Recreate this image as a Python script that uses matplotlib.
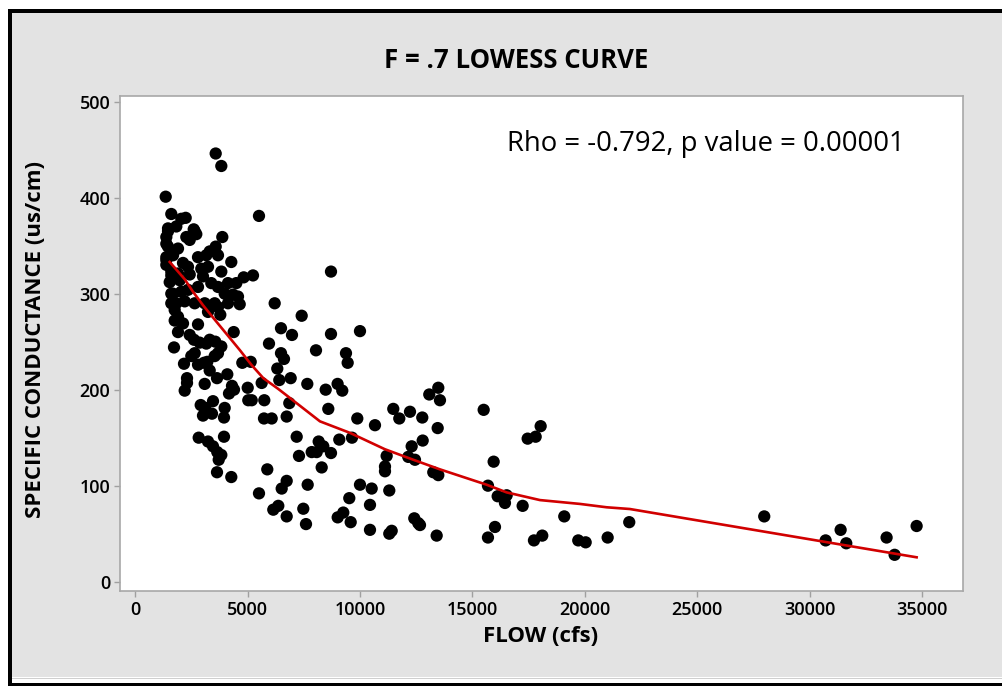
import matplotlib
matplotlib.use('Agg')
from matplotlib import pyplot as plt
from matplotlib.patches import Rectangle

# scatter data: flow (cfs) vs specific conductance (us/cm)
flow = [
    3576, 3826, 1352, 5502, 1601, 2046, 2241, 1455, 1380, 1824, 2598, 2713, 2269, 2420, 3870,
    1455, 1899, 1677, 2789, 3158, 3309, 3576, 1380, 1380, 2122, 2344, 2936, 3234, 3678, 4270,
    3826, 1601, 1899, 2420, 1530, 1975, 4822, 5235, 3011, 3380, 3678, 4123, 4492, 2789, 1601,
    2046, 2344, 3976, 4346, 4568, 6200, 1601, 1752, 2642, 3087, 3678, 4123, 3234, 3781, 1899,
    1455, 2642, 1380, 1380, 1601, 1677, 1824,
    2197, 3531, 4644, 1752, 2122, 2789, 1899, 4377, 2420, 2611, 2864, 3158, 3309, 3558, 3826,
    1721, 3678, 3531, 2642, 2491, 3203, 3056, 2789, 2166, 3309, 3634, 4092, 2300, 2300, 3087,
    2197, 4301, 4390, 4168, 2909, 3114, 3456, 3011, 3411, 3976, 3945, 2820, 3234, 3456, 3647,
    3826, 3710, 3945, 3634, 4270,
    8705, 7401, 6481, 6970, 8705, 9995, 5947, 8038, 6481, 6614, 9372, 9447, 4760, 5133, 6316,
    6405, 6912, 5622, 7651, 8999, 9207, 8469, 5000, 5026, 5178, 5738, 6850, 8585, 13478, 13077,
    13553, 11476, 12219, 11743, 12766, 9875, 10662, 5725, 6067, 6734, 13451, 7179, 9074, 9639,
    8157, 8363, 12784, 12294,
    8069, 7847, 8705, 7281, 11181, 12143, 12441, 5871, 8291, 11107, 11107, 13255, 13478, 6734,
    6512, 7668, 5502, 9995, 10515, 11298, 9519, 10440, 6361, 6138, 7473, 6734, 7593, 9252, 9003,
    9581, 10440, 11405, 11298, 12410, 12664, 12588, 13406,
    15497, 18032, 17454, 17810, 15941, 15688, 16120, 16520, 16444, 17231, 19082, 21973, 16000,
    15688, 18103, 17734, 19705, 20034, 21012,
    27978, 30709, 31376, 31627, 33421, 33778, 34757,
]
cond = [
    446, 433, 401, 381, 383, 378, 379, 368, 359, 370, 367, 362, 359, 356, 359,
    349, 347, 340, 338, 340, 344, 349, 338, 330, 332, 328, 326, 328, 340, 333,
    323, 323, 321, 320, 312, 314, 317, 319, 318, 311, 307, 311, 311, 307, 300,
    302, 304, 300, 299, 297, 290, 290, 283, 290, 290, 286, 290, 281, 278, 276,
    365, 365, 352, 335, 319, 300, 290,
    292, 290, 289, 272, 269, 268, 260, 260, 257, 252, 249, 248, 252, 250, 245,
    244, 238, 235, 238, 235, 229, 228, 226, 227, 220, 212, 216, 212, 207, 206,
    199, 204, 200, 196, 184, 181, 188, 173, 175, 181, 171, 150, 146, 141, 135,
    132, 127, 151, 114, 109,
    323, 277, 264, 257, 258, 261, 248, 241, 238, 232, 238, 228, 228, 229, 222,
    210, 212, 207, 206, 206, 199, 200, 202, 189, 189, 189, 186, 180, 202, 195,
    189, 180, 177, 170, 171, 170, 163, 170, 170, 172, 160, 151, 148, 150,
    146, 141, 147, 141,
    135, 135, 134, 131, 131, 130, 127, 117, 119, 120, 115, 114, 111, 105,
    97, 101, 92, 101, 97, 95, 87, 80, 79, 75, 76, 68, 60, 72, 67,
    62, 54, 53, 50, 66, 59, 61, 48,
    179, 162, 149, 151, 125, 100, 89, 90, 82, 79, 68, 62, 57,
    46, 48, 43, 43, 41, 46,
    68, 43, 54, 40, 46, 28, 58,
]

# lowess curve (f = 0.7)
lowess_x = [1530, 2197, 2566, 3011, 3531, 4270, 4657, 5160, 5693, 6347, 6734, 8215, 9550,
            11100, 12366, 13553, 15630, 16519, 18002, 19781, 20968, 22000, 34757]
lowess_y = [333, 315, 302, 288, 273, 252, 241, 226, 212, 201, 194, 167, 155,
            138, 127, 117, 101, 93, 85, 81, 77.5, 75.7, 25.4]

xticks = [0, 5000, 10000, 15000, 20000, 25000, 30000, 35000]
yticks = [0, 100, 200, 300, 400, 500]

plt.rcParams['font.family'] = ['Open Sans', 'DejaVu Sans']

fig = plt.figure(figsize=(10.02, 6.86), dpi=100)
fig.patch.set_facecolor('white')
W, H = 1002.0, 686.0

# gray panel and black frame
fig.patches.append(Rectangle((12 / W, 1 - 677 / H), 1, (677 - 13) / H, transform=fig.transFigure,
                             facecolor='#e3e3e3', edgecolor='none', zorder=-3))
fig.patches.append(Rectangle((12 / W, 1 - 679 / H), 1, 1.5 / H, transform=fig.transFigure,
                             facecolor='#cfcfcf', edgecolor='none', zorder=-2))
fig.patches.append(Rectangle((8 / W, 1 - 13 / H), 1, 4 / H, transform=fig.transFigure,
                             facecolor='black', edgecolor='none', zorder=-1))
fig.patches.append(Rectangle((8 / W, 0), 4 / W, 1 - 9 / H, transform=fig.transFigure,
                             facecolor='black', edgecolor='none', zorder=-1))
fig.patches.append(Rectangle((8 / W, 0), 1, 3 / H, transform=fig.transFigure,
                             facecolor='black', edgecolor='none', zorder=-1))

ax = fig.add_axes([120 / W, 1 - 591 / H, (963 - 120) / W, (591 - 96) / H])
ax.set_facecolor('white')
ax.scatter(flow, cond, s=78, c='black', edgecolors='none', zorder=3)
ax.plot(lowess_x, lowess_y, color='#d10000', linewidth=1.9, zorder=4)

ax.set_xlim(-681, 36820)
ax.set_ylim(-9.7, 505.9)
ax.set_xticks(xticks)
ax.set_yticks(yticks)
ax.tick_params(direction='out', length=4, width=1, color='#a0a0a0', labelsize=13,
               labelcolor='black', pad=3)
for lab in ax.get_xticklabels() + ax.get_yticklabels():
    lab.set_fontweight('semibold')
for side in ['left', 'bottom', 'top', 'right']:
    ax.spines[side].set_color('#a8a8a8')
    ax.spines[side].set_linewidth(1.2)

ax.text(0.459, 0.904, 'Rho = -0.792, p value = 0.00001', transform=ax.transAxes,
        fontsize=19.8, ha='left', va='center')

fig.text(516 / W, 1 - 60 / H, 'F = .7 LOWESS CURVE', fontsize=18.5, fontweight='bold',
         ha='center', va='center')
fig.text(541 / W, 1 - 636 / H, 'FLOW (cfs)', fontsize=16, fontweight='bold',
         ha='center', va='center')
fig.text(36 / W, 1 - 340 / H, 'SPECIFIC CONDUCTANCE (us/cm)', fontsize=16, fontweight='bold',
         ha='center', va='center', rotation=90)

fig.savefig('out.png', dpi=100)
